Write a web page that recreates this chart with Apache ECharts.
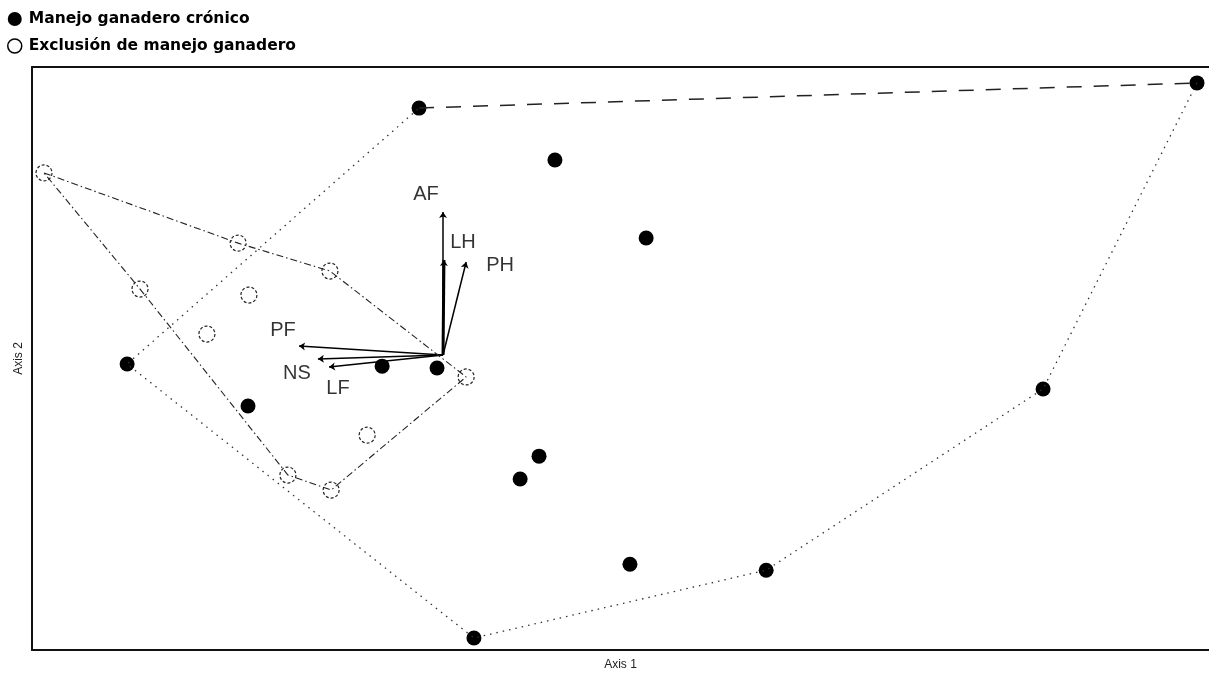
<!DOCTYPE html>
<html>
<head>
<meta charset="utf-8">
<script src="https://cdn.jsdelivr.net/npm/echarts@6/dist/echarts.min.js"></script>
<style>
html,body{margin:0;padding:0;background:#fff;}
#chart{width:1209px;height:677px;}
</style>
</head>
<body>
<div id="chart"></div>
<script>
// ---- DATA (ordination scores) ----
const seriesNames = ['Manejo ganadero crónico', 'Exclusión de manejo ganadero'];
const managedX = [-0.080, 0.373, 0.677, 2.513, -1.053, -0.650, -0.203, -0.020, 0.320, 0.257, 0.623, 1.077, 2.000, 0.103];
const managedY = [0.823, 0.650, 0.390, 0.907, -0.030, -0.170, -0.037, -0.043, -0.337, -0.413, -0.697, -0.717, -0.113, -0.943];
const exclusionX = [-1.330, -0.683, -0.377, -0.647, -1.010, -0.787, 0.077, -0.253, -0.517, -0.373];
const exclusionY = [0.607, 0.373, 0.280, 0.200, 0.220, 0.070, -0.073, -0.267, -0.400, -0.450];
// hull vertex order (indices into the point lists)
const managedHullTop = [0, 3];
const managedHullRest = [3, 12, 11, 13, 4, 0];
const exclusionHull = [0, 1, 2, 6, 9, 8, 4, 0];
// environmental vectors
const vectorNames = ['AF', 'LH', 'PH', 'PF', 'NS', 'LF'];
const vectorX = [0.000, 0.003, 0.077, -0.480, -0.417, -0.380];
const vectorY = [0.477, 0.317, 0.310, 0.030, -0.013, -0.040];
const axisNames = ['Axis 1', 'Axis 2'];

// ---- STYLE ----
const labelOffsets = {AF: [-17, -17], LH: [19, -17], PH: [34, 3], PF: [-16, -16], NS: [-21, 15], LF: [9, 21]};
const vectorWidths = {LH: 3};
const frameLine = {show: true, onZero: false, lineStyle: {color: '#111', width: 2}};

const pts = (xs, ys) => xs.map((x, i) => [x, ys[i]]);
const managed = pts(managedX, managedY);
const exclusion = pts(exclusionX, exclusionY);
const pick = (arr, idx) => idx.map(i => arr[i]);

const chart = echarts.init(document.getElementById('chart'));
const xBase = {
  type: 'value', min: -1.37, max: 2.553,
  axisTick: {show: false}, axisLabel: {show: false}, splitLine: {show: false}, axisLine: frameLine
};
chart.setOption({
  animation: false,
  backgroundColor: '#fff',
  grid: {left: 32, right: 0, top: 67, bottom: 27, outerBoundsMode: 'none', containLabel: false},
  legend: {
    orient: 'vertical', left: 2, top: 6, itemWidth: 14, itemHeight: 14, itemGap: 11,
    textStyle: {fontFamily: 'DejaVu Sans', fontWeight: 'bold', fontSize: 15.5, color: '#000', padding: [0, 0, 0, 2]},
    data: [
      {name: seriesNames[0], icon: 'circle', itemStyle: {color: '#000', borderWidth: 0, opacity: 1}},
      {name: seriesNames[1], icon: 'circle', itemStyle: {color: '#fff', borderColor: '#000', borderWidth: 1.5, borderType: 'solid', opacity: 1}}
    ]
  },
  xAxis: [
    Object.assign({}, xBase, {
      position: 'bottom',
      name: axisNames[0], nameLocation: 'middle', nameGap: 9,
      nameTextStyle: {fontFamily: 'Liberation Sans', fontSize: 12, color: '#222'}
    }),
    Object.assign({}, xBase, {position: 'top'})
  ],
  yAxis: {
    type: 'value', min: -0.983, max: 0.96, position: 'left',
    name: axisNames[1], nameLocation: 'middle', nameGap: 7,
    nameTextStyle: {fontFamily: 'Liberation Sans', fontSize: 12, color: '#222'},
    axisLine: frameLine, axisTick: {show: false}, axisLabel: {show: false}, splitLine: {show: false}
  },
  series: [
    {
      name: 'hullExclusion', type: 'line', data: pick(exclusion, exclusionHull),
      symbol: 'none', silent: true,
      lineStyle: {color: '#222', width: 1.1, type: [7, 3, 1.5, 3]}
    },
    {
      name: 'hullManagedTop', type: 'line', data: pick(managed, managedHullTop),
      symbol: 'none', silent: true,
      lineStyle: {color: '#222', width: 1.5, type: [15, 12]}
    },
    {
      name: 'hullManaged', type: 'line', data: pick(managed, managedHullRest),
      symbol: 'none', silent: true,
      lineStyle: {color: '#333', width: 1.3, type: [1.5, 5]}
    },
    {
      name: 'vectors', type: 'lines', coordinateSystem: 'cartesian2d',
      symbol: ['none', 'arrow'], symbolSize: 6, silent: true,
      lineStyle: {color: '#000', width: 1.5, opacity: 1},
      data: vectorNames.map((n, i) => ({
        coords: [[0, 0], [vectorX[i], vectorY[i]]],
        lineStyle: {width: vectorWidths[n] || 1.5}
      }))
    },
    {
      name: 'vectorLabels', type: 'scatter', symbolSize: 0, silent: true,
      data: vectorNames.map((n, i) => ({
        value: [vectorX[i], vectorY[i]],
        label: {show: true, formatter: n, offset: labelOffsets[n], position: 'inside',
          fontFamily: 'Liberation Sans', fontSize: 20, color: '#000'}
      }))
    },
    {
      name: seriesNames[1], type: 'scatter', data: exclusion, symbol: 'circle', symbolSize: 16,
      itemStyle: {color: 'rgba(255,255,255,0)', borderColor: '#222', borderWidth: 1.2, borderType: [3, 2], opacity: 1}
    },
    {
      name: seriesNames[0], type: 'scatter', data: managed, symbol: 'circle', symbolSize: 15,
      itemStyle: {color: '#000', opacity: 1}
    }
  ]
});
</script>
</body>
</html>
